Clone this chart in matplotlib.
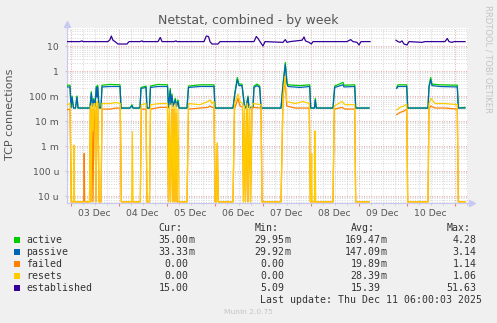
import numpy as np
import matplotlib

matplotlib.use("Agg")

import matplotlib.pyplot as plt
import matplotlib.dates as mdates
from matplotlib.patches import Rectangle
from matplotlib.ticker import FixedLocator, FuncFormatter, LogLocator, NullFormatter

nan = np.nan

# hours since 2025-12-03 00:00
t_ap = [-1.75, -0.25, 0.25, 0.75, 1.5, 2.5, 3.25, 3.75,
        9.75, 10.4, 11, 11.6, 12.25, 12.9, 13.25, 13.6,
        14.25, 15.25, 15.75, 19.75, 24.75, 25.25, 29.75, 30.75,
        31.25, 34.75, 35.25, 37.75, 38.25, 39.5, 40, 43.75,
        48.5, 49, 49.9, 50.25, 50.75, 51.25, 52.4, 53,
        53.75, 54.25, 58.25, 59, 64.75, 71.75, 72.25, 81.25,
        82.25, 83.4, 84.25, 85.75, 87, 87.75, 88.75, 89.25,
        91.25, 91.75, 93.25, 94.6, 95.25, 105.25, 106.25, 107.4,
        108.25, 108.75, 114.75, 119.6, 120.1, 122, 122.4, 122.9,
        131.25, 132.1, 136.25, 136.75, 142.1, 142.6, 149.25, 150,
        163.1, 163.75, 168.1, 168.6, 178.75, 179.25, 180.1, 180.75,
        184.75, 193.4, 193.9, 197.25]
active = [0.27, 0.27, 0.035, 0.1, 0.033, 0.033, 0.1, 0.033,
          0.033, 0.15, 0.04, 0.08, 0.04, 0.25, 0.1, 0.27,
          0.035, 0.033, 0.27, 0.29, 0.28, 0.033, 0.033, 0.045,
          0.033, 0.033, 0.22, 0.25, 0.033, 0.033, 0.25, 0.29,
          0.28, 0.035, 0.2, 0.05, 0.12, 0.04, 0.08, 0.04,
          0.07, 0.033, 0.033, 0.25, 0.28, 0.28, 0.033, 0.033,
          0.15, 0.55, 0.3, 0.3, 0.04, 0.033, 0.1, 0.035,
          0.035, 0.25, 0.3, 0.25, 0.033, 0.033, 0.3, 2.2,
          0.35, 0.28, 0.26, 0.28, 0.033, 0.033, 0.08, 0.033,
          0.033, 0.25, 0.35, 0.27, 0.28, 0.033, 0.033, nan,
          0.22, 0.28, 0.28, 0.033, 0.033, 0.25, 0.55, 0.3,
          0.28, 0.27, 0.033, 0.035]
passive = [0.23, 0.23, 0.034, 0.09, 0.033, 0.033, 0.09, 0.033,
           0.033, 0.13, 0.038, 0.07, 0.038, 0.22, 0.09, 0.23,
           0.034, 0.033, 0.23, 0.24, 0.24, 0.033, 0.033, 0.04,
           0.033, 0.033, 0.2, 0.22, 0.033, 0.033, 0.22, 0.24,
           0.24, 0.034, 0.17, 0.045, 0.1, 0.038, 0.07, 0.038,
           0.06, 0.033, 0.033, 0.22, 0.24, 0.24, 0.033, 0.033,
           0.13, 0.45, 0.26, 0.26, 0.038, 0.033, 0.09, 0.034,
           0.034, 0.22, 0.26, 0.22, 0.033, 0.033, 0.26, 1.8,
           0.3, 0.24, 0.22, 0.24, 0.033, 0.033, 0.07, 0.033,
           0.033, 0.22, 0.28, 0.23, 0.24, 0.033, 0.033, nan,
           0.2, 0.24, 0.24, 0.033, 0.033, 0.22, 0.45, 0.26,
           0.24, 0.23, 0.033, 0.033]

t_rf = [-1.75, -0.25, 0.4, 1.5, 1.75, 2, 6.6, 6.85,
        7.1, 9.5, 9.9, 10.25, 10.75, 11.25, 11.75, 12.25,
        12.75, 13.25, 13.75, 14.25, 15.25, 15.75, 19.75, 22.75,
        24.9, 25.4, 30.6, 30.9, 31.25, 34.9, 35.4, 37.75,
        38.25, 39.5, 40, 44.75, 48.5, 49, 49.5, 50,
        50.75, 51.25, 51.75, 52.25, 52.75, 53.25, 53.75, 54.25,
        58.25, 59, 64.75, 68.75, 69.75, 70.75, 71.75, 72.25,
        73, 73.4, 73.9, 81.25, 82, 83.75, 84.75, 86,
        86.5, 87, 87.5, 88.25, 88.75, 89.5, 90, 90.75,
        91.25, 95.25, 95.75, 105.25, 106.25, 107.25, 108.1, 112.25,
        116.25, 119.4, 119.9, 120.35, 120.6, 120.85, 122, 122.25,
        122.6, 131.25, 131.9, 135.75, 137.25, 142.1, 142.6, 149.25,
        150, 163.1, 164.75, 166.75, 168.1, 168.6, 178.75, 179.25,
        180.25, 182.25, 187.25, 193.4, 193.9, 197.25]
failed = [0.028, 0.03, 0, 0, 0, 0, 0, 0.0005,
          0, 0, 0.03, 0, 0.03, 0, 0.03, 0.025,
          0, 0.04, 0.03, 0, 0, 0.03, 0.03, 0.033,
          0.033, 0, 0, 0, 0, 0, 0.03, 0.03,
          0, 0, 0.03, 0.035, 0.035, 0, 0.02, 0,
          0.03, 0, 0.03, 0, 0.02, 0, 0, 0,
          0, 0.03, 0.033, 0.035, 0.04, 0.035, 0.035, 0,
          0, 0.0013, 0, 0, 0.03, 0.08, 0.04, 0.035,
          0, 0.02, 0, 0.03, 0, 0.03, 0, 0.03,
          0.035, 0.033, 0, 0, 0.08, 0.5, 0.04, 0.033,
          0.033, 0.033, 0, 0, 0, 0, 0, 0,
          0, 0, 0.03, 0.035, 0.03, 0.03, 0, 0,
          nan, 0.018, 0.022, 0.025, 0.03, 0, 0, 0.03,
          0.04, 0.033, 0.033, 0.03, 0, 0]
resets = [0.045, 0.05, 0, 0, 0.0011, 0, 0, 0,
          0, 0, 0.04, 0, 0.05, 0.004, 0.05, 0.05,
          0, 0.06, 0.05, 0, 0, 0.05, 0.05, 0.055,
          0.05, 0, 0, 0.0037, 0, 0, 0.045, 0.05,
          0, 0, 0.045, 0.05, 0.05, 0, 0.04, 0,
          0.05, 0, 0.04, 0, 0.05, 0, 0.03, 0,
          0, 0.05, 0.045, 0.06, 0.07, 0.05, 0.06, 0,
          0, 0.0013, 0, 0, 0.05, 0.12, 0.06, 0.05,
          0, 0.04, 0, 0.05, 0, 0.04, 0, 0.04,
          0.05, 0.045, 0, 0, 0.1, 0.6, 0.06, 0.05,
          0.06, 0.05, 0, 0, 0.0005, 0, 0, 0.004,
          0, 0, 0.04, 0.06, 0.045, 0.045, 0, 0,
          nan, 0.028, 0.035, 0.04, 0.048, 0, 0, 0.05,
          0.08, 0.05, 0.05, 0.045, 0, 0]

t_est = [-1.75, 4.75, 5.75, 6.25, 18.75, 19.75, 20.4, 21.25,
         22.25, 23.75, 28.25, 29.25, 34.75, 35.75, 36.25, 43.75,
         44.9, 45.75, 51.75, 52.75, 53.25, 66.75, 67.9, 69,
         69.75, 70.75, 73.75, 74.75, 91.75, 92.9, 93.75, 95.25,
         96.25, 97.25, 106.25, 107.4, 108.25, 109.75, 115.75, 116.75,
         117.5, 119.25, 120.4, 121.25, 138.25, 140.1, 141.25, 143.25,
         144.25, 145.25, 149.75, 150.5, 162.75, 163.75, 164.75, 165.75,
         166.75, 168.25, 169.25, 175.75, 177.25, 187.25, 188.4, 189.25,
         190.75, 191.75, 197.25]
established = [15, 15, 16, 15, 15, 18, 25, 17,
               15, 12, 12, 15, 15, 16, 15, 15,
               22, 15, 15, 16, 15, 15, 25, 24,
               15, 12, 12, 15, 15, 24, 20, 13,
               10, 15, 14, 18, 14, 15, 17, 23,
               16, 14, 12, 15, 15, 18, 15, 14,
               11, 15, 15, nan, 17, 15, 14, 16,
               12, 11, 15, 14, 15, 15, 20, 15,
               14, 15, 15]

names = ["active", "passive", "failed", "resets", "established"]
colors = ["#00cc00", "#0066b3", "#ff8000", "#ffcc00", "#330099"]
cur_s = ["35.00m", "33.33m", "0.00", "0.00", "15.00"]
min_s = ["29.95m", "29.92m", "0.00", "0.00", "5.09"]
avg_s = ["169.47m", "147.09m", "19.89m", "28.39m", "15.39"]
max_s = ["4.28", "3.14", "1.14", "1.06", "51.63"]

y_ticks = [10, 1, 0.1, 0.01, 1e-3, 1e-4, 1e-5]
y_tick_labels = ["10", "1", "100 m", "10 m", "1 m", "100 u", "10 u"]

W, H = 497, 323
base = np.datetime64("2025-12-03T00:00")


def to_dates(hours):
    return base + (np.asarray(hours) * 3600).astype("timedelta64[s]")


def fx(x):
    return x / W


def fy(y):
    return 1 - y / H


fig = plt.figure(figsize=(W / 100, H / 100), dpi=100, facecolor="#f0f0f0")
ax = fig.add_axes([fx(67), fy(203), 401 / W, 175 / H])
ax.set_facecolor("white")
ax.set_yscale("log")
ymin, ymax = 5.25e-6, 52.5
ax.set_ylim(ymin, ymax)
ax.set_xlim(to_dates([-1.75])[0], to_dates([198.75])[0])

floor = ymin * 1.12  # zero values sit on the bottom edge, like rrdtool
series = [(t_ap, active), (t_ap, passive), (t_rf, failed), (t_rf, resets), (t_est, established)]
for (t, v), c in zip(series, colors):
    v = np.asarray(v, dtype=float)
    v = np.where(v == 0, floor, v)
    ax.plot(to_dates(t), v, color=c, lw=0.9, zorder=3)

# grid
ax.yaxis.set_major_locator(FixedLocator(y_ticks))
ax.yaxis.set_major_formatter(FuncFormatter(lambda v, p: dict(zip(y_ticks, y_tick_labels)).get(v, "")))
ax.yaxis.set_minor_locator(LogLocator(base=10, subs=np.arange(2, 10)))
ax.yaxis.set_minor_formatter(NullFormatter())
ax.xaxis.set_major_locator(mdates.DayLocator())
ax.xaxis.set_major_formatter(NullFormatter())
ax.xaxis.set_minor_locator(mdates.HourLocator(byhour=[6, 12, 18]))


def day_label(x, pos):
    if round((x % 1) * 24) != 12:
        return ""
    return mdates.num2date(x).strftime("%d %b")


ax.xaxis.set_minor_formatter(FuncFormatter(day_label))
ax.set_axisbelow(True)
ax.grid(which="major", color="#e8a8a8", lw=0.7, ls=(0, (1, 1.5)))
ax.grid(which="minor", color="#d6d6d6", lw=0.7, ls=(0, (1, 1.5)))

ax.tick_params(axis="x", which="major", length=2.5, color="#e08080", direction="out")
ax.tick_params(axis="x", which="minor", length=1.5, color="#c8c8c8", pad=2.8,
               labelsize=6.7, labelcolor="#555555")
ax.tick_params(axis="y", which="major", length=1.5, color="#c8c8c8", pad=4.2,
               labelsize=6.7, labelcolor="#555555")
ax.tick_params(axis="y", which="minor", length=0)

for s in ["top", "right"]:
    ax.spines[s].set_visible(False)
for s in ["left", "bottom"]:
    ax.spines[s].set_color("#c8c8f0")
    ax.spines[s].set_linewidth(0.8)
ax.plot([0, 0], [1, 1 + 6 / 175], transform=ax.transAxes, color="#c8c8f0", lw=0.8, clip_on=False)
ax.plot([0], [1 + 4 / 175], marker="^", ms=4, color="#c8c8f0", transform=ax.transAxes, clip_on=False)
ax.plot([1, 1 + 5 / 401], [0, 0], transform=ax.transAxes, color="#c8c8f0", lw=0.8, clip_on=False)
ax.plot([1 + 4 / 401], [0], marker=">", ms=4, color="#c8c8f0", transform=ax.transAxes, clip_on=False)

# texts
fig.text(fx(248), fy(24), "Netstat, combined - by week", ha="center", va="baseline",
         fontsize=9, color="#555555")
fig.text(fx(10.5), fy(114), "TCP connections", rotation=90, ha="center", va="center",
         fontsize=8, color="#555555")
fig.text(fx(488), fy(58.5), "RRDTOOL / TOBI OETIKER", rotation=-90, ha="center", va="center",
         fontsize=6, color="#c4c4c4")

mono = dict(family="DejaVu Sans Mono", fontsize=7.15, color="#333333", va="baseline")
col_edges = [188.3, 284.3, 380.3, 476.7]
headers = ["Cur:", "Min:", "Avg:", "Max:"]
header_x = [158.7, 255, 351, 446.7]
for h, x in zip(headers, header_x):
    fig.text(fx(x), fy(230.9), h, ha="left", **mono)

row_base = [243.3, 255.3, 267.0, 279.0, 291.0]
for i, name in enumerate(names):
    yb = row_base[i]
    fig.patches.append(Rectangle((fx(14), fy(yb)), 6 / W, 6 / H, transform=fig.transFigure,
                                 facecolor=colors[i], edgecolor="none"))
    fig.text(fx(26.3), fy(yb), name, ha="left", **mono)
    for vals, xe in zip([cur_s, min_s, avg_s, max_s], col_edges):
        s = vals[i]
        num = s.rstrip("mu")
        fig.text(fx(xe), fy(yb), num, ha="right", **mono)
        if s[len(num):]:
            fig.text(fx(xe), fy(yb), s[len(num):], ha="left", **mono)

fig.text(fx(482.5), fy(302.9), "Last update: Thu Dec 11 06:00:03 2025", ha="right", **mono)
fig.text(fx(248), fy(311.7), "Munin 2.0.75", ha="center", va="center", fontsize=5.4, color="#c4c4c4")

fig.savefig("out.png", dpi=100, facecolor=fig.get_facecolor())
